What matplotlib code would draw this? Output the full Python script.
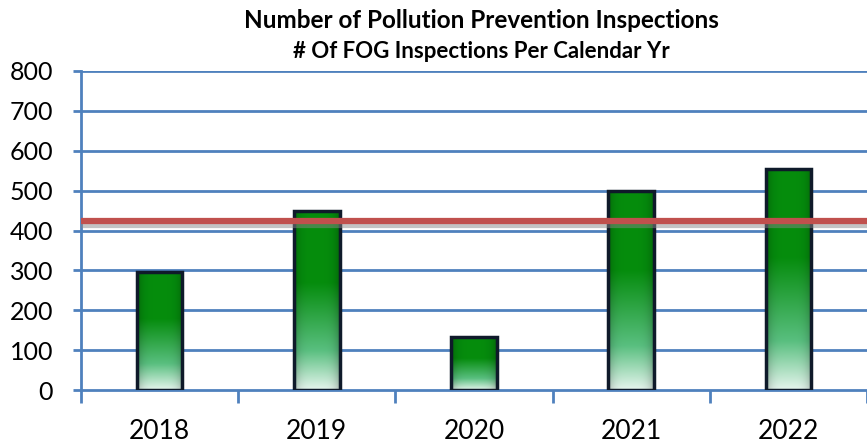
import numpy as np
import matplotlib
matplotlib.use("Agg")
import matplotlib.pyplot as plt
from matplotlib.patches import Rectangle
import matplotlib.patheffects as pe

years = ["2018", "2019", "2020", "2021", "2022"]
inspections = [296, 448, 132, 500, 553]
target = 424
title = "Number of Pollution Prevention Inspections"
subtitle = "# Of FOG Inspections Per Calendar Yr"

plt.rcParams['font.family'] = ['Lato', 'DejaVu Sans']

W, H = 867, 445
fig = plt.figure(figsize=(W / 100, H / 100), dpi=100)
ax = fig.add_axes([81 / W, 1 - 390 / H, (867 - 81) / W, (390 - 71) / H])

x = np.arange(len(years))
bw = 0.29
ax.set_xlim(-0.5, len(years) - 0.5)
ax.set_ylim(0, 800)

grid_c = "#4F81BD"
for v in range(100, 801, 100):
    ax.axhline(v, color=grid_c, lw=2, zorder=1)

# gradient image for bars
ny, nx = 200, 60
t = np.linspace(0, 1, ny)[:, None]  # 0 = top, 1 = bottom
top = np.array([0.02, 0.55, 0.05])
mid = np.array([0.35, 0.75, 0.50])
bot = np.array([0.90, 0.96, 0.93])
col = np.where(t < 0.40, top,
               np.where(t < 0.78, top + (mid - top) * ((t - 0.40) / 0.38),
                        mid + (bot - mid) * ((t - 0.78) / 0.22)))
xx = np.linspace(-1, 1, nx)[None, :]
shade = 1 - 0.25 * np.abs(xx) ** 4
img = np.clip(col[:, None, :] * shade[:, :, None], 0, 1)

for xi, val in zip(x, inspections):
    im = ax.imshow(img, extent=[xi - bw / 2, xi + bw / 2, 0, val],
                   aspect='auto', zorder=2, interpolation='bilinear')
    r = Rectangle((xi - bw / 2, 0), bw, val, fill=False,
                  edgecolor="#0F1A2A", lw=2.5, zorder=3)
    ax.add_patch(r)
    im.set_clip_path(r)

ax.axhline(target, color="#C0504D", lw=4.5, zorder=5,
           path_effects=[pe.SimpleLineShadow(offset=(0, -3), shadow_color="#888888", alpha=0.5),
                         pe.Normal()])

for s in ["top", "right"]:
    ax.spines[s].set_visible(False)
for s in ["left", "bottom"]:
    ax.spines[s].set_color(grid_c)
    ax.spines[s].set_linewidth(2)

ax.set_yticks(range(0, 801, 100))
ax.tick_params(axis='y', labelsize=18, length=6, width=2, color=grid_c, pad=14)
ax.set_xticks(x)
ax.set_xticklabels(years)
ax.set_xticks(np.arange(-0.5, len(years) + 0.5, 1), minor=True)
ax.tick_params(axis='x', which='major', length=0, labelsize=19, pad=21)
ax.tick_params(axis='x', which='minor', length=9, width=2, color=grid_c)

fig.text(481 / W, 1 - 20 / H, title, ha='center', va='center',
         fontsize=17.5, fontweight='bold')
fig.text(481 / W, 1 - 52 / H, subtitle, ha='center', va='center',
         fontsize=16, fontweight='bold')

fig.savefig("out.png", dpi=100)
